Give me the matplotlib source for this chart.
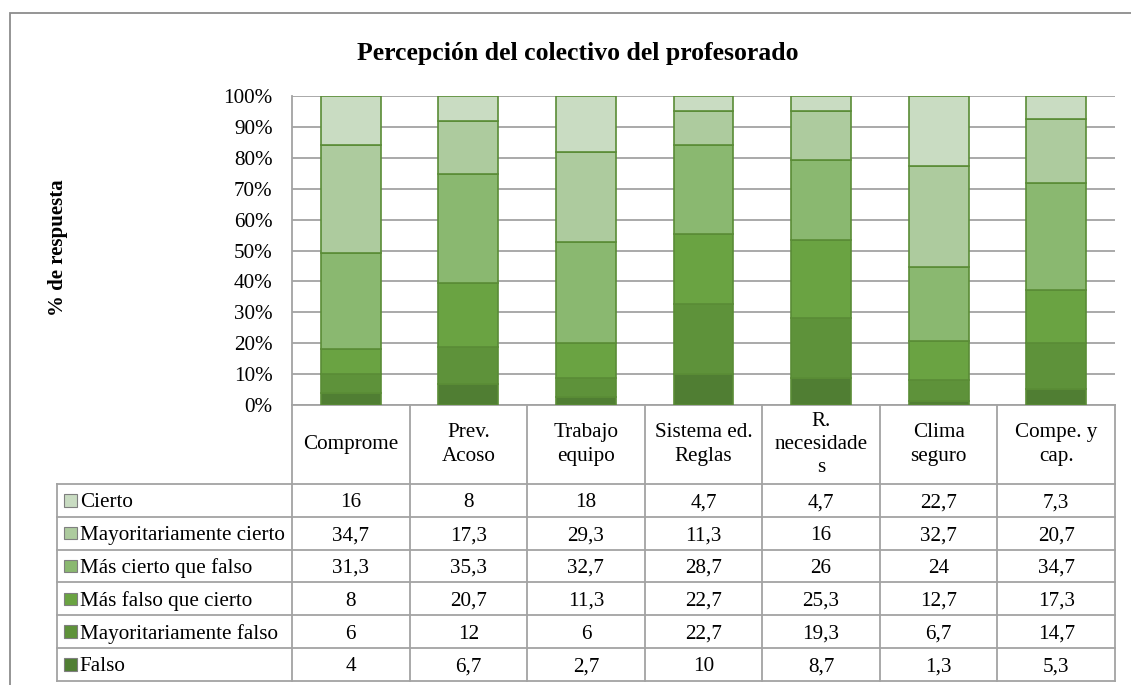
import matplotlib.pyplot as plt
import numpy as np
from matplotlib.patches import Rectangle

plt.rcParams['font.family'] = ['Liberation Serif', 'DejaVu Serif']

# chart data
categories = ['Comprome', 'Prev.\nAcoso', 'Trabajo\nequipo', 'Sistema ed.\nReglas',
              'R.\nnecesidade\ns', 'Clima\nseguro', 'Compe. y\ncap.']
series_names = ['Falso', 'Mayoritariamente falso', 'Más falso que cierto',
                'Más cierto que falso', 'Mayoritariamente cierto', 'Cierto']
falso = [4, 6.7, 2.7, 10, 8.7, 1.3, 5.3]
may_falso = [6, 12, 6, 22.7, 19.3, 6.7, 14.7]
mas_falso = [8, 20.7, 11.3, 22.7, 25.3, 12.7, 17.3]
mas_cierto = [31.3, 35.3, 32.7, 28.7, 26, 24, 34.7]
may_cierto = [34.7, 17.3, 29.3, 11.3, 16, 32.7, 20.7]
cierto = [16, 8, 18, 4.7, 4.7, 22.7, 7.3]
yticks = [0, 10, 20, 30, 40, 50, 60, 70, 80, 90, 100]

series = [falso, may_falso, mas_falso, mas_cierto, may_cierto, cierto]
colors = ['#507E33', '#5E923A', '#6AA342', '#8AB870', '#ADCB9E', '#C9DCC2']
edge = '#5A8C36'
grid_c = '#A3A3A3'
fs = 15.2

W, H = 1131, 685
fig = plt.figure(figsize=(W / 100, H / 100), dpi=100)

# outer chart border (cropped on right and bottom)
fig.patches.append(Rectangle((10 / W, -0.1), 1.2, (H - 13) / H + 0.1, transform=fig.transFigure,
                             fill=False, edgecolor='#8C8C8C', lw=1.3))

ax = fig.add_axes([292 / W, (H - 405) / H, 823 / W, 309 / H])

data = np.array(series, dtype=float)
pct = data / data.sum(axis=0) * 100
x = np.arange(len(categories))
bottom = np.zeros(len(categories))
for vals, col in zip(pct, colors):
    ax.bar(x, vals, 0.51, bottom=bottom, color=col, edgecolor=edge, lw=1.2, zorder=3)
    bottom += vals

ax.set_xlim(-0.5, len(categories) - 0.5)
ax.set_ylim(0, 100)
ax.set_yticks(yticks)
ax.set_yticklabels([f'{t}%' for t in yticks], fontsize=fs)
ax.tick_params(axis='y', length=0, pad=14)
ax.set_xticks([])
ax.grid(axis='y', color=grid_c, lw=1.3, zorder=0)
for s in ['top', 'right']:
    ax.spines[s].set_visible(False)
for s in ['left', 'bottom']:
    ax.spines[s].set_color(grid_c)
    ax.spines[s].set_linewidth(1.3)

ax.set_title('Percepción del colectivo del profesorado', fontsize=18.5,
             fontweight='bold', x=(578 - 292) / 823, pad=26)
fig.text(58 / W, 1 - 248 / H, '% de respuesta', rotation=90, fontsize=15,
         fontweight='bold', ha='center', va='center')

# data table below the plot (data coords: one column = one category)
header_h = 79 / 309 * 100
row_h = 32.8 / 309 * 100
n = len(categories)
left = -2.5
right = n - 0.5
line_kw = dict(color=grid_c, lw=1.3, clip_on=False, zorder=4)

# header row
for k in range(n + 1):
    ax.plot([k - 0.5, k - 0.5], [0, -header_h], **line_kw)
for k, cat in enumerate(categories):
    ax.text(k, -header_h / 2, cat, ha='center', va='center', fontsize=fs,
            linespacing=1.3, clip_on=False)

# value rows, Cierto at top
rows = list(zip(series_names, series, colors))[::-1]
top = -header_h
for r, (name, vals, col) in enumerate(rows):
    y0 = top - r * row_h
    y1 = y0 - row_h
    ym = (y0 + y1) / 2
    ax.plot([left, right], [y0, y0], **line_kw)
    ax.text(left + 0.195, ym, name, ha='left', va='center_baseline', fontsize=fs, clip_on=False)
    ax.add_patch(Rectangle((left + 0.06, ym - 2.0), 0.11, 4.0, facecolor=col,
                           edgecolor='#7F7F7F', lw=0.8, clip_on=False, zorder=4))
    for k, v in enumerate(vals):
        ax.text(k, ym, f'{v:g}'.replace('.', ','), ha='center', va='center_baseline',
                fontsize=fs, clip_on=False)
bottom_y = top - len(rows) * row_h
ax.plot([left, right], [bottom_y, bottom_y], **line_kw)
for xv in [left] + [k - 0.5 for k in range(n + 1)]:
    ax.plot([xv, xv], [top, bottom_y], **line_kw)

fig.savefig('out.png', dpi=100)
